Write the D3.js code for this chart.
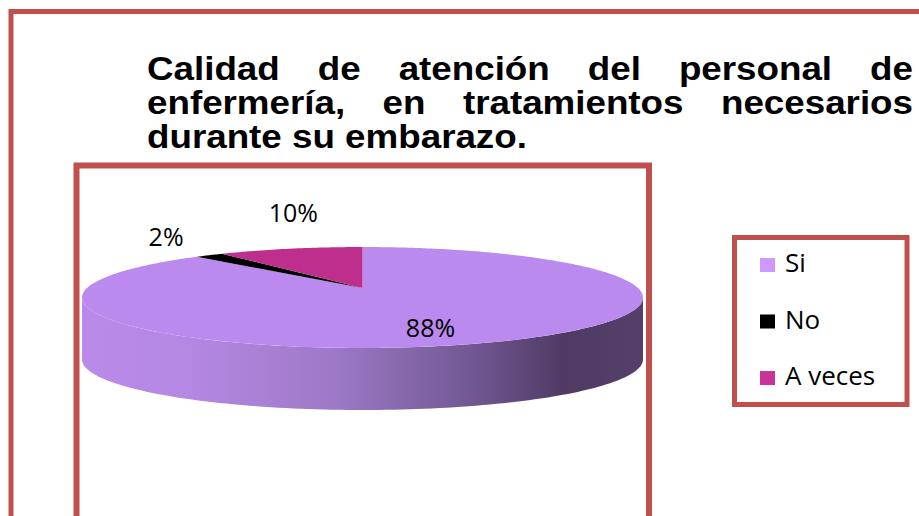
<!DOCTYPE html>
<html>
<head>
<meta charset="utf-8">
<script src="https://cdn.jsdelivr.net/npm/d3@7"></script>
<style>
  html, body { margin: 0; padding: 0; background: #fff; overflow: hidden; }
  text { font-family: "Open Sans", "Noto Sans", sans-serif; }
  text.title { font-family: "Liberation Sans", Arial, sans-serif; font-weight: bold; }
</style>
</head>
<body>
<svg id="chart" width="919" height="516"></svg>
<script>
// ─── DATA ───────────────────────────────────────────────
const categories = ["Si", "No", "A veces"];
const percents = [88, 2, 10];
const topColors = ["#bb8aee", "#000000", "#be2e8c"];
const legendColors = ["#cc99ff", "#000000", "#cc3399"];
const titleLines = [
  "Calidad de atención del personal de",
  "enfermería, en tratamientos necesarios",
  "durante su embarazo."
];

const width = 919, height = 516;
const frameRed = "#c0504d";
const svg = d3.select("#chart");

// ─── FRAMES ─────────────────────────────────────────────
svg.append("rect")
  .attr("x", 11).attr("y", 11.5).attr("width", 1000).attr("height", 1000)
  .attr("fill", "none").attr("stroke", frameRed).attr("stroke-width", 5);

svg.append("rect")
  .attr("x", 76.5).attr("y", 165.5).attr("width", 572.5).attr("height", 1000)
  .attr("fill", "none").attr("stroke", frameRed).attr("stroke-width", 6);

svg.append("rect")
  .attr("x", 734.5).attr("y", 237.5).attr("width", 172.5).attr("height", 167)
  .attr("fill", "none").attr("stroke", frameRed).attr("stroke-width", 5);

// ─── TITLE (justified, bold) ────────────────────────────
const titleLeft = 147, titleRight = 913, titleTop = 80, lineGap = 34;
const titleG = svg.append("g");
const titleFont = 33;

// measure last line to get horizontal stretch of the original
const probe = titleG.append("text")
  .attr("class", "title").attr("font-size", titleFont)
  .text(titleLines[2]);
const sx = 380 / probe.node().getComputedTextLength();
probe.remove();
titleG.attr("transform", `translate(${titleLeft},0) scale(${sx},1)`);
const lineW = (titleRight - titleLeft) / sx;

titleLines.forEach((line, i) => {
  const y = titleTop + i * lineGap;
  const words = line.split(" ");
  const justify = i < titleLines.length - 1;
  const nodes = words.map(w => titleG.append("text")
    .attr("class", "title").attr("font-size", titleFont)
    .attr("fill", "#000").attr("y", y).text(w));
  const widths = nodes.map(n => n.node().getComputedTextLength());
  const total = d3.sum(widths);
  const space = justify ? (lineW - total) / (words.length - 1) : titleFont * 0.278;
  let x = 0;
  nodes.forEach((n, j) => { n.attr("x", x); x += widths[j] + space; });
});

// ─── 3D PIE ─────────────────────────────────────────────
const cx = 362.5, cy = 288;       // apex of slices
const A = 275.5, B = 48.7;        // horizontal / depth scale
const persp = 0.188;              // perspective factor
const depth = 62;

function proj(theta, r) {
  const X = Math.sin(theta) * r, Z = Math.cos(theta) * r;
  const k = 1 / (1 + persp * Z);
  return [cx + A * X * k, cy - B * Z * k];
}

const pie = d3.pie().sort(null).value(d => d);
const arcs = pie(percents);

const defs = svg.append("defs");
const grad = defs.append("linearGradient")
  .attr("id", "sideGrad").attr("gradientUnits", "userSpaceOnUse")
  .attr("x1", 82).attr("x2", 643).attr("y1", 0).attr("y2", 0);
[[0, "#ba8ae9"], [0.18, "#b588e4"], [0.45, "#9d79c6"], [0.7, "#705792"],
 [0.86, "#4f3a64"], [1, "#554069"]].forEach(([o, c]) =>
  grad.append("stop").attr("offset", o).attr("stop-color", c));

// side wall: front half of the rim
const thR = Math.acos(-persp), thL = 2 * Math.PI - thR;
const rim = d3.range(0, 121).map(i => proj(thR + (thL - thR) * i / 120, 1));
const sidePts = rim.concat(rim.slice().reverse().map(([x, y]) => [x, y + depth]));
const line = d3.line();
svg.append("path")
  .attr("d", line(sidePts) + "Z")
  .attr("fill", "url(#sideGrad)");

// top face slices
svg.append("g").selectAll("path")
  .data(arcs)
  .enter().append("path")
  .attr("d", d => {
    const n = Math.max(4, Math.ceil((d.endAngle - d.startAngle) * 60));
    const pts = [proj(0, 0)];
    for (let i = 0; i <= n; i++) {
      pts.push(proj(d.startAngle + (d.endAngle - d.startAngle) * i / n, 1));
    }
    return line(pts) + "Z";
  })
  .attr("fill", (d, i) => topColors[i]);

// data labels
const outsideNudge = { "No": [-43, -18], "A veces": [3, -35] };
svg.append("g").selectAll("text")
  .data(arcs)
  .enter().append("text")
  .attr("font-size", 25)
  .attr("fill", "#000")
  .attr("text-anchor", "middle")
  .attr("dy", "0.35em")
  .attr("transform", (d, i) => {
    const mid = (d.startAngle + d.endAngle) / 2;
    if (d.value >= 50) {
      const [x, y] = proj(mid, 0.6);
      return `translate(${x},${y + 10})`;
    }
    const [x, y] = proj(mid, 1);
    const [dx, dy] = outsideNudge[categories[i]];
    return `translate(${x + dx},${y + dy})`;
  })
  .text(d => d.value + "%");

// ─── LEGEND ─────────────────────────────────────────────
const legendY = d3.scalePoint().domain(categories).range([272, 385]);
const legend = svg.append("g").selectAll("g")
  .data(categories)
  .enter().append("g")
  .attr("transform", d => `translate(0,${legendY(d)})`);

legend.append("rect")
  .attr("x", 760).attr("y", -14).attr("width", 15).attr("height", 14)
  .attr("fill", (d, i) => legendColors[i]);

legend.append("text")
  .attr("x", 785).attr("y", 0)
  .attr("font-size", 26).attr("fill", "#000")
  .text(d => d);
</script>
</body>
</html>
